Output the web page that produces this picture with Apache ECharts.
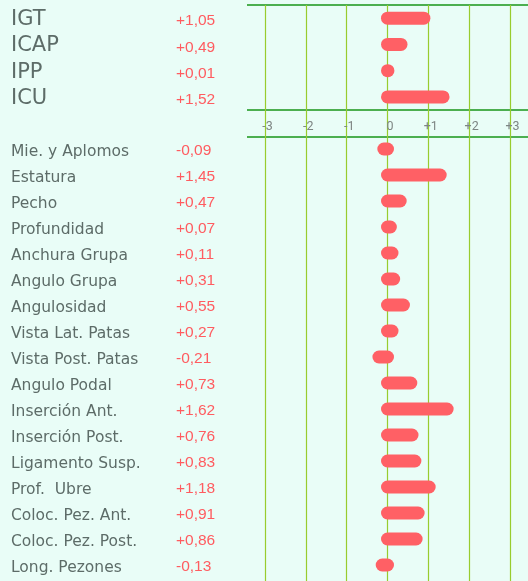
<!DOCTYPE html>
<html>
<head>
<meta charset="utf-8">
<script src="https://cdn.jsdelivr.net/npm/echarts@6/dist/echarts.min.js"></script>
<style>
  html, body { margin: 0; padding: 0; background: #e9fdf7; }
  #chart { width: 528px; height: 581px; }
</style>
</head>
<body>
<div id="chart"></div>
<script>
// indices globales
var indexNames = ['IGT', 'ICAP', 'IPP', 'ICU'];
var indexValues = [1.05, 0.49, 0.01, 1.52];

// caracteres morfologicos
var traitNames = ['Mie. y Aplomos', 'Estatura', 'Pecho', 'Profundidad', 'Anchura Grupa',
  'Angulo Grupa', 'Angulosidad', 'Vista Lat. Patas', 'Vista Post. Patas', 'Angulo Podal',
  'Inserción Ant.', 'Inserción Post.', 'Ligamento Susp.', 'Prof.  Ubre',
  'Coloc. Pez. Ant.', 'Coloc. Pez. Post.', 'Long. Pezones'];
var traitValues = [-0.09, 1.45, 0.47, 0.07, 0.11, 0.31, 0.55, 0.27, -0.21, 0.73,
  1.62, 0.76, 0.83, 1.18, 0.91, 0.86, -0.13];

var xTicks = [-3, -2, -1, 0, 1, 2, 3];

var chart = echarts.init(document.getElementById('chart'));

function fmt(v) {
  return (v < 0 ? '-' : '+') + Math.abs(v).toFixed(2).replace('.', ',');
}

function labelFor(names, values, nameSize, nameDrop, valDrop) {
  return {
    align: 'left',
    margin: 254,
    formatter: function (name) {
      var i = names.indexOf(name);
      return '{n|' + name + '}{v|' + fmt(values[i]) + '}';
    },
    rich: {
      n: { width: 165, fontFamily: 'DejaVu Sans', fontSize: nameSize, color: '#5d6c68',
        padding: [nameDrop, 0, 0, 0] },
      v: { fontFamily: 'Liberation Sans', fontSize: 15.5, color: '#ff5c60',
        padding: [valDrop, 0, 0, 0] }
    }
  };
}

var CAP = 6.5;
// pill shaped bar: round cap outside the zero end, inside the value end
function pill(params, api) {
  var y = api.value(1);
  var p0 = api.coord([0, y]);
  var p1 = api.coord([api.value(0), y]);
  var len = p1[0] - p0[0];
  var x1, x2;
  if (len >= 0) {
    x1 = p0[0];
    x2 = p0[0] + Math.max(len - CAP, Math.min(len, 4.5), 0.2);
  } else {
    x1 = p1[0];
    x2 = p0[0];
  }
  return {
    type: 'line',
    shape: { x1: x1, y1: p0[1], x2: x2, y2: p0[1] },
    style: { stroke: '#ff6065', lineWidth: 13, lineCap: 'round' }
  };
}

var L = 265, R = 18;

chart.setOption({
  backgroundColor: '#e9fdf7',
  animation: false,
  grid: [
    { left: L, right: R, top: 5, height: 105 },
    { left: L, right: R, top: 136, height: 442 },
    { left: L, right: R, top: 5, bottom: 0 }
  ],
  xAxis: [
    {
      gridIndex: 0, type: 'value', min: -3, max: 3, interval: 1,
      axisLine: { show: false }, axisTick: { show: false }, splitLine: { show: false },
      axisLabel: {
        margin: 10, color: '#7d8583', fontSize: 12.5, fontFamily: 'Roboto',
        padding: [0, 0, 0, 5],
        formatter: function (v) { return v > 0 ? '+' + v : String(v); }
      }
    },
    {
      gridIndex: 1, type: 'value', min: -3, max: 3, interval: 1, show: false
    },
    {
      gridIndex: 2, type: 'value', min: xTicks[0], max: xTicks[xTicks.length - 1], interval: 1,
      axisLine: { show: false }, axisTick: { show: false }, axisLabel: { show: false },
      splitLine: { show: true, lineStyle: { color: '#98cc2e', width: 1.2 } }
    }
  ],
  yAxis: [
    {
      gridIndex: 0, type: 'category', data: indexNames, inverse: true,
      axisLine: { show: false }, axisTick: { show: false },
      axisLabel: labelFor(indexNames, indexValues, 21, 3, 6)
    },
    {
      gridIndex: 1, type: 'category', data: traitNames, inverse: true,
      axisLine: { show: false }, axisTick: { show: false },
      axisLabel: labelFor(traitNames, traitValues, 15.5, 6, 4)
    },
    {
      gridIndex: 2, type: 'value', min: 0, max: 1, show: false
    }
  ],
  series: [
    {
      type: 'custom', xAxisIndex: 0, yAxisIndex: 0,
      renderItem: pill, encode: { x: 0, y: 1 },
      data: indexValues.map(function (v, i) { return [v, indexNames[i]]; })
    },
    {
      type: 'custom', xAxisIndex: 1, yAxisIndex: 1,
      renderItem: pill, encode: { x: 0, y: 1 },
      data: traitValues.map(function (v, i) { return [v, traitNames[i]]; })
    }
  ],
  graphic: [
    { type: 'line', shape: { x1: 247, y1: 5, x2: 528, y2: 5 }, style: { stroke: '#4caf50', lineWidth: 2 } },
    { type: 'line', shape: { x1: 247, y1: 110, x2: 528, y2: 110 }, style: { stroke: '#4caf50', lineWidth: 2 } },
    { type: 'line', shape: { x1: 247, y1: 137, x2: 528, y2: 137 }, style: { stroke: '#4caf50', lineWidth: 2 } }
  ]
});
</script>
</body>
</html>
